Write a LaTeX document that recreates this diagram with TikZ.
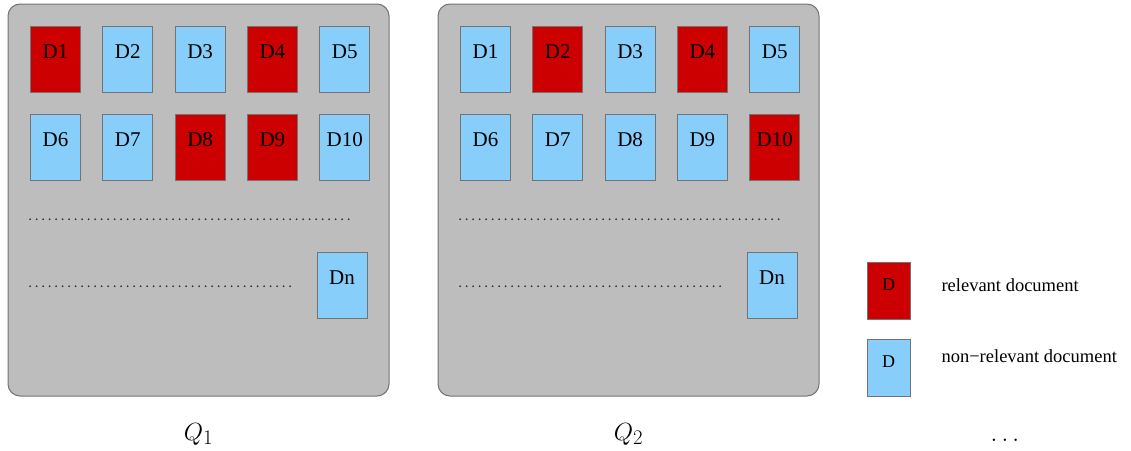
\documentclass[tikz,border=0pt]{standalone}
\usepackage{fontspec}
\setmainfont{Liberation Serif}
\usetikzlibrary{positioning}

\definecolor{relred}{HTML}{CC0000}
\definecolor{nonblue}{HTML}{87CEFA}
\definecolor{panelgray}{HTML}{BDBDBD}

\tikzset{
	panel/.style={draw=black!55, fill=panelgray, line width=1pt, rounded corners=12pt,
		minimum width=381pt, minimum height=392pt},
	doc/.style={draw=black!55, line width=0.8pt, inner sep=0pt, minimum width=50pt,
		minimum height=66pt, text height=15pt, text depth=17pt, font=\fontsize{21}{21}\selectfont},
	rel/.style={doc, fill=relred},
	non/.style={doc, fill=nonblue},
	keybox/.style={doc, minimum width=43pt, minimum height=57pt, text height=13pt, text depth=13pt,
		font=\fontsize{18}{18}\selectfont},
	dots/.style={line width=2pt, dash pattern=on 0pt off 6.5pt, line cap=round, black!80},
	qlabel/.style={font=\fontsize{28}{28}\selectfont},
	keytext/.style={anchor=base west, font=\fontsize{18.5}{18.5}\selectfont}
}

\begin{document}
\begin{tikzpicture}[x=1pt,y=-1pt,node distance=22pt and 21.5pt]
		\useasboundingbox (0,0) rectangle (1131,450);
		
		%Query 1
		\node[panel] (p1) at (198.5,200) {};
		\node[rel] (a1) at (55.5,59) {D1};
		\node[non] (a2) [right=of a1] {D2};
		\node[non] (a3) [right=of a2] {D3};
		\node[rel] (a4) [right=of a3] {D4};
		\node[non] (a5) [right=of a4] {D5};
		\node[non] (a6) [below=of a1] {D6};
		\node[non] (a7) [right=of a6] {D7};
		\node[rel] (a8) [right=of a7] {D8};
		\node[rel] (a9) [right=of a8] {D9};
		\node[non] (a10) [right=of a9] {D10};
		\node[non] (an) at (342,285) {Dn};
		\draw[dots] (a6.south west) ++(0,38) -- ++(319,0);
		\draw[dots] (a6.south west) ++(0,105) -- ++(261,0);
		\node[qlabel] (q1) [below=23pt of p1] {$Q_1$};
		
		%Query 2
		\node[panel] (p2) at (628.5,200) {};
		\node[non] (b1) at (485.5,59) {D1};
		\node[rel] (b2) [right=of b1] {D2};
		\node[non] (b3) [right=of b2] {D3};
		\node[rel] (b4) [right=of b3] {D4};
		\node[non] (b5) [right=of b4] {D5};
		\node[non] (b6) [below=of b1] {D6};
		\node[non] (b7) [right=of b6] {D7};
		\node[non] (b8) [right=of b7] {D8};
		\node[non] (b9) [right=of b8] {D9};
		\node[rel] (b10) [right=of b9] {D10};
		\node[non] (bn) at (772,285) {Dn};
		\draw[dots] (b6.south west) ++(0,38) -- ++(319,0);
		\draw[dots] (b6.south west) ++(0,105) -- ++(261,0);
		\node[qlabel] (q2) [below=23pt of p2] {$Q_2$};
		
		%Legend
		\node[keybox, fill=relred] (k1) at (888.5,290.5) {D};
		\node[keybox, fill=nonblue] (k2) at (888.5,367.5) {D};
		\node[keytext] (t1) at (938,291) {relevant document};
		\node[keytext] (t2) at (938,362) {non−relevant document};
		\node[qlabel] (more) at (1005,440) {$\dots$};
		
\end{tikzpicture}
\end{document}
